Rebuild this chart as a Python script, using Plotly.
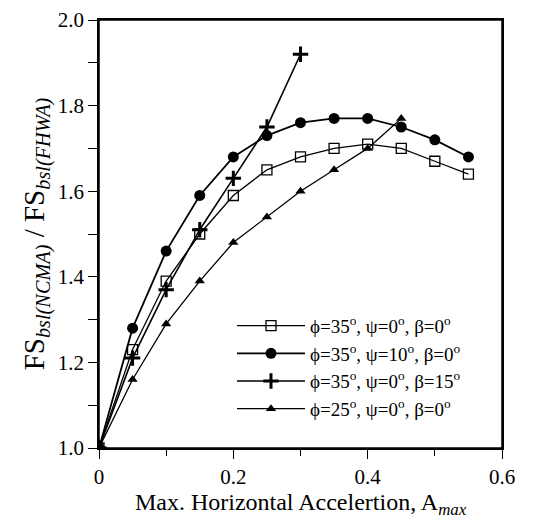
import plotly.graph_objects as go

x_all = [0, 0.05, 0.10, 0.15, 0.20, 0.25, 0.30, 0.35, 0.40, 0.45, 0.50, 0.55]
s1_name = "\u03d5=35<sup>o</sup>, \u03c8=0<sup>o</sup>, \u03b2=0<sup>o</sup>"
s1_y = [1.00, 1.23, 1.39, 1.50, 1.59, 1.65, 1.68, 1.70, 1.71, 1.70, 1.67, 1.64]
s2_name = "\u03d5=35<sup>o</sup>, \u03c8=10<sup>o</sup>, \u03b2=0<sup>o</sup>"
s2_y = [1.00, 1.28, 1.46, 1.59, 1.68, 1.73, 1.76, 1.77, 1.77, 1.75, 1.72, 1.68]
s3_name = "\u03d5=35<sup>o</sup>, \u03c8=0<sup>o</sup>, \u03b2=15<sup>o</sup>"
s3_x = [0, 0.05, 0.10, 0.15, 0.20, 0.25, 0.30]
s3_y = [1.00, 1.21, 1.37, 1.51, 1.63, 1.75, 1.92]
s4_name = "\u03d5=25<sup>o</sup>, \u03c8=0<sup>o</sup>, \u03b2=0<sup>o</sup>"
s4_x = [0, 0.05, 0.10, 0.15, 0.20, 0.25, 0.30, 0.35, 0.40, 0.45]
s4_y = [1.00, 1.16, 1.29, 1.39, 1.48, 1.54, 1.60, 1.65, 1.70, 1.77]
x_ticks = [0, 0.2, 0.4, 0.6]
x_ticktext = ["0", "0.2", "0.4", "0.6"]

FONT = "Liberation Serif"
fig = go.Figure()
fig.add_trace(go.Scatter(x=x_all, y=s1_y, name=s1_name, mode="lines+markers",
                         line=dict(color="black", width=1.3),
                         marker=dict(symbol="square-open", size=10, color="black", line=dict(width=1.3))))
fig.add_trace(go.Scatter(x=x_all, y=s2_y, name=s2_name, mode="lines+markers",
                         line=dict(color="black", width=1.8),
                         marker=dict(symbol="circle", size=11, color="black")))
fig.add_trace(go.Scatter(x=s3_x, y=s3_y, name=s3_name, mode="lines+markers",
                         line=dict(color="black", width=1.6),
                         marker=dict(symbol="cross-thin-open", size=11, color="black", line=dict(width=3, color="black"))))
fig.add_trace(go.Scatter(x=s4_x, y=s4_y, name=s4_name, mode="lines+markers",
                         line=dict(color="black", width=1.3),
                         marker=dict(symbol="triangle-up", size=9, color="black")))

axis_common = dict(showline=True, linecolor="black", linewidth=1.5, mirror=True,
                   ticks="outside", ticklen=9, tickwidth=1.2, tickcolor="black",
                   showgrid=False, zeroline=False, automargin=False,
                   ticklabeloverflow="allow",
                   tickfont=dict(family=FONT, size=21, color="black"))
fig.update_xaxes(range=[0, 0.6], tickvals=x_ticks, ticktext=x_ticktext,
                 minor=dict(dtick=0.1, ticks="outside", ticklen=6, tickcolor="black"),
                 title=dict(text="Max. Horizontal Accelertion, A<sub><i>max</i></sub>",
                            font=dict(family=FONT, size=24, color="black"), standoff=2),
                 **axis_common)
fig.update_yaxes(range=[1.0, 2.0], dtick=0.2, tickformat=".1f",
                 minor=dict(dtick=0.1, ticks="outside", ticklen=9, tickcolor="black"),
                 title=dict(text="FS<sub><i>bsl(NCMA)</i></sub> / FS<sub><i>bsl(FHWA)</i></sub>",
                            font=dict(family=FONT, size=29, color="black"), standoff=5),
                 **axis_common)

fig.add_shape(type="rect", xref="paper", yref="paper", x0=0, x1=1, y0=0, y1=1,
              line=dict(color="black", width=1.5), fillcolor="rgba(0,0,0,0)", layer="above")

fig.update_layout(width=547, height=530, margin=dict(l=91, r=53, t=12, b=90),
                  paper_bgcolor="white", plot_bgcolor="white",
                  font=dict(family=FONT, color="black"),
                  legend=dict(x=0.33, y=0.33, xanchor="left", yanchor="top",
                              bgcolor="rgba(0,0,0,0)", font=dict(family=FONT, size=19, color="black"),
                              tracegroupgap=0, itemwidth=68))

fig.write_html("out.html")
